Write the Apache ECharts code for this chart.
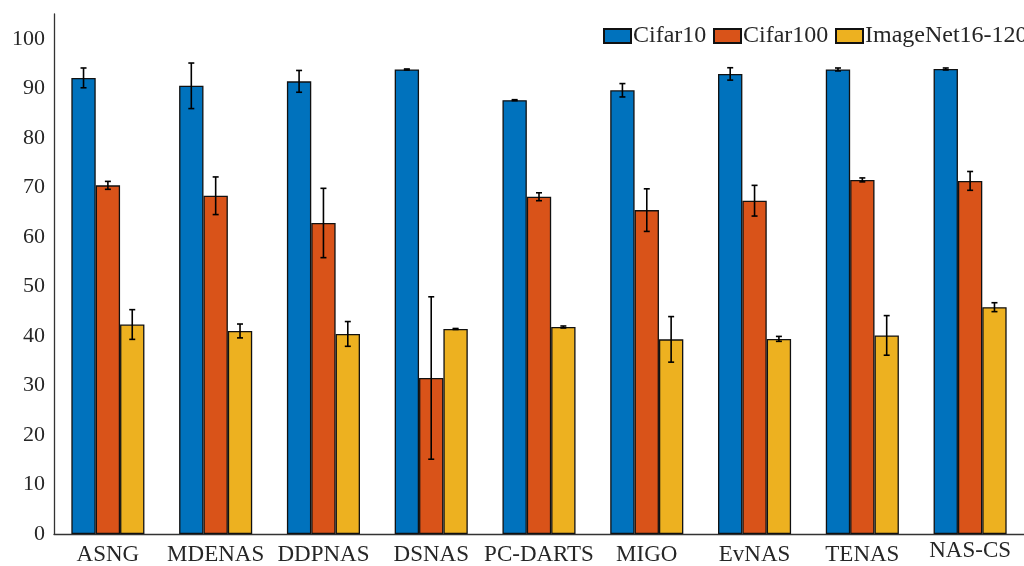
<!DOCTYPE html>
<html>
<head>
<meta charset="utf-8">
<script src="https://cdn.jsdelivr.net/npm/echarts@6/dist/echarts.min.js"></script>
<style>
  html, body { margin: 0; padding: 0; background: #ffffff; }
  #chart { width: 1024px; height: 566px; }
</style>
</head>
<body>
<div id="chart"></div>
<script>
// Methods compared
const categories = ['ASNG', 'MDENAS', 'DDPNAS', 'DSNAS', 'PC-DARTS', 'MIGO', 'EvNAS', 'TENAS', 'NAS-CS'];

// Mean test accuracy (%) per dataset
const cifar10 = [92.1, 90.5, 91.4, 93.8, 87.6, 89.6, 92.9, 93.8, 93.9];
const cifar100 = [70.4, 68.3, 62.8, 31.5, 68.1, 65.4, 67.3, 71.5, 71.3];
const imagenet = [42.3, 41.0, 40.4, 41.4, 41.8, 39.3, 39.4, 40.1, 45.8];

// Standard deviation (%) per dataset
const cifar10Err = [2.0, 4.6, 2.2, 0.1, 0.1, 1.35, 1.25, 0.3, 0.2];
const cifar100Err = [0.8, 3.8, 7.0, 16.4, 0.8, 4.3, 3.1, 0.4, 1.9];
const imagenetErr = [3.0, 1.4, 2.5, 0.1, 0.2, 4.6, 0.5, 4.0, 0.9];

const seriesNames = ['Cifar10', 'Cifar100', 'ImageNet16-120'];
const colors = ['#0072BD', '#D95319', '#EDB120'];
const means = [cifar10, cifar100, imagenet];
const errs = [cifar10Err, cifar100Err, imagenetErr];

const BAR_RATIO = 0.226;       // bar width as a fraction of the category band
const FONT = '"Liberation Serif", "Times New Roman", serif';
const TEXT_COLOR = '#262626';

const chart = echarts.init(document.getElementById('chart'));

function errorBarSeries(k) {
  const data = categories.map((c, i) => [i, means[k][i] - errs[k][i], means[k][i] + errs[k][i]]);
  return {
    type: 'custom',
    name: seriesNames[k] + ' std',
    data: data,
    z: 5,
    silent: true,
    encode: { x: 0, y: [1, 2] },
    renderItem: function (params, api) {
      const idx = api.value(0);
      const band = api.size([1, 0])[0];
      const dx = (k - 1) * band * BAR_RATIO;
      const lo = api.coord([idx, api.value(1)]);
      const hi = api.coord([idx, api.value(2)]);
      const x = lo[0] + dx;
      const cap = 3;
      const style = { stroke: '#000', lineWidth: 1.6, fill: null };
      return {
        type: 'group',
        children: [
          { type: 'line', shape: { x1: x, y1: lo[1], x2: x, y2: hi[1] }, style: style },
          { type: 'line', shape: { x1: x - cap, y1: hi[1], x2: x + cap, y2: hi[1] }, style: style },
          { type: 'line', shape: { x1: x - cap, y1: lo[1], x2: x + cap, y2: lo[1] }, style: style }
        ]
      };
    }
  };
}

const barSeries = seriesNames.map((name, k) => ({
  type: 'bar',
  name: name,
  data: means[k],
  barWidth: (BAR_RATIO * 100) + '%',
  barGap: '0%',
  itemStyle: { color: colors[k], borderColor: '#111', borderWidth: 1.3 }
}));

const legendLefts = [603, 713, 835];
const legends = seriesNames.map((name, k) => ({
  data: [name],
  left: legendLefts[k],
  top: 24,
  padding: 0,
  icon: 'rect',
  itemWidth: 27,
  itemHeight: 14,
  selectedMode: false,
  textStyle: { fontFamily: FONT, fontSize: 24, color: TEXT_COLOR, padding: [0, 0, 0, -3] }
}));

const option = {
  backgroundColor: '#ffffff',
  animation: false,
  color: colors,
  legend: legends,
  grid: { left: 54, top: 14, width: 981, bottom: 30, containLabel: false },
  xAxis: {
    type: 'category',
    data: categories,
    axisLine: { lineStyle: { color: '#333', width: 1.3 } },
    axisTick: { show: false },
    axisLabel: {
      fontFamily: FONT,
      fontSize: 23,
      color: TEXT_COLOR,
      margin: 9,
      interval: 0,
      formatter: v => v === 'NAS-CS' ? '{up|' + v + '}' : v,
      rich: { up: { fontFamily: FONT, fontSize: 23, color: TEXT_COLOR, lineHeight: 15 } }
    }
  },
  yAxis: {
    type: 'value',
    min: 0,
    max: 105,
    interval: 10,
    axisLine: { show: true, lineStyle: { color: '#333', width: 1.3 } },
    axisTick: { show: false },
    splitLine: { show: false },
    axisLabel: {
      fontFamily: FONT,
      fontSize: 22,
      color: TEXT_COLOR,
      margin: 9,
      showMaxLabel: false
    }
  },
  series: barSeries.concat([0, 1, 2].map(errorBarSeries))
};

chart.setOption(option);
</script>
</body>
</html>
